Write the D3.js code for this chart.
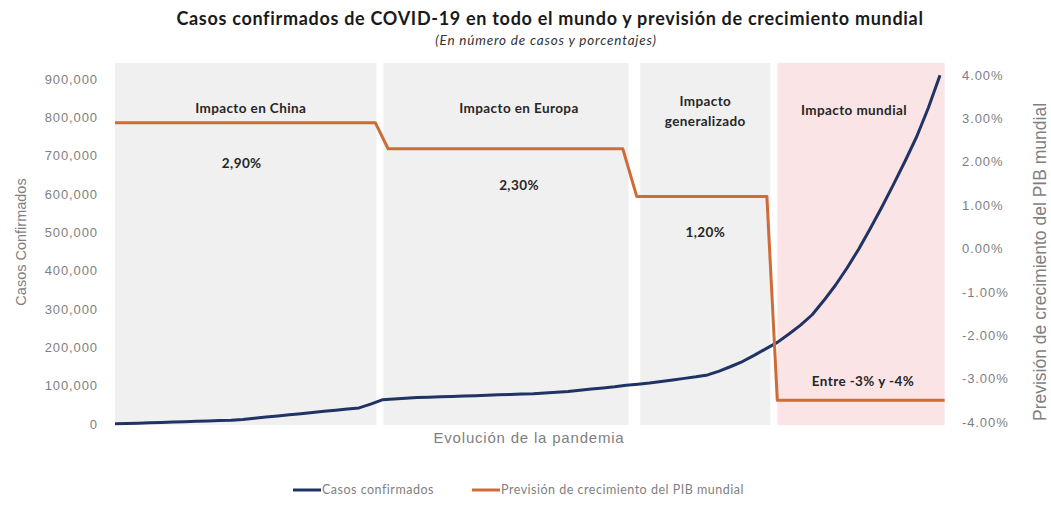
<!DOCTYPE html>
<html><head><meta charset="utf-8">
<script src="https://cdn.jsdelivr.net/npm/d3@7"></script>
<style>
body{margin:0;background:#fff;}
svg{display:block;}
</style></head>
<body>
<svg id="chart" width="1051" height="508"></svg>
<script>
// ---- data ----
const days = d3.range(0, 72); // day index of the pandemic evolution
const casos = [0.5,1,2,3,4,5,6,7,8,9,10,
  12,15,18,21,24,27,30,33,36,39,42,
  52,63,65,67,69,70,71,72,73,74,75,76,77,78,79,81,83,
  85,88,91,94,97,101,104,107,111,115,119,123,128,
  138,150,163,179,196,213,235,258,285,322,362,407,456,510,566,625,686,750,825,910
].map(v => v * 1000);
const pibDays = [0, 22.4, 23.5, 43.7, 44.9, 56.1, 57, 71.4];
const pibVals = [2.9, 2.9, 2.3, 2.3, 1.2, 1.2, -3.5, -3.5];
const bandNames = ["China", "Europa", "Generalizado", "Mundial"];
const bandStart = [0, 23.1, 45.2, 57];
const bandEnd = [22.5, 44.2, 56.4, 71.4];
const bandTitles = [["Impacto en China"], ["Impacto en Europa"], ["Impacto", "generalizado"], ["Impacto mundial"]];
const bandValueLabels = ["2,90%", "2,30%", "1,20%", "Entre -3% y -4%"];
const bandValuePct = [2.9, 2.3, 1.2, -3.5];
const leftTicks = [0,100000,200000,300000,400000,500000,600000,700000,800000,900000];
const rightTicks = [-4,-3,-2,-1,0,1,2,3,4];
const seriesNames = ["Casos confirmados", "Previsión de crecimiento del PIB mundial"];

// ---- layout ----
const svg = d3.select("#chart");
const plotLeft = 115, plotRight = 940, plotTop = 63, plotBottom = 424;
const x = d3.scaleLinear().domain([0, 71]).range([plotLeft, plotRight]);
const yL = d3.scaleLinear().domain([0, 900000]).range([plotBottom, 79]);
const yR = d3.scaleLinear().domain([-4, 4]).range([422, 75]);
const blue = "#1f3364", orange = "#cf6b37";
const fontB = "Lato, 'Open Sans', sans-serif";
const fontA = "'Liberation Sans', Arial, sans-serif";

// bands
const bandFill = ["#f0f0f0", "#f0f0f0", "#f0f0f0", "#fbe4e5"];
svg.append("g").selectAll("rect").data(bandNames).join("rect")
  .attr("x", (d,i) => x(bandStart[i]))
  .attr("width", (d,i) => x(bandEnd[i]) - x(bandStart[i]))
  .attr("y", plotTop).attr("height", plotBottom + 1 - plotTop)
  .attr("fill", (d,i) => bandFill[i]);

// left axis
const axL = svg.append("g").attr("transform", `translate(${plotLeft - 17},0)`)
  .call(d3.axisLeft(yL).tickValues(leftTicks).tickFormat(d3.format(",")).tickSize(0).tickPadding(0));
axL.select(".domain").remove();
axL.selectAll("text").attr("fill", "#7f7f7f").style("font-family", fontA).style("font-size", "13px").style("letter-spacing", "0.9px");

// right axis
const pct = d => (d < 0 ? "-" : "") + Math.abs(d).toFixed(2) + "%";
const axR = svg.append("g").attr("transform", `translate(962,0)`)
  .call(d3.axisRight(yR).tickValues(rightTicks).tickFormat(pct).tickSize(0).tickPadding(0));
axR.select(".domain").remove();
axR.selectAll("text").attr("fill", "#7f7f7f").style("font-family", fontA).style("font-size", "13px").style("letter-spacing", "0.9px");

// axis titles
svg.append("text").attr("transform", "translate(26,242) rotate(-90)")
  .attr("text-anchor", "middle").attr("fill", "#7f7f7f")
  .style("font-family", fontA).style("font-size", "14.5px")
  .text("Casos Confirmados");
svg.append("text").attr("transform", "translate(1046,262) rotate(-90)")
  .attr("text-anchor", "middle").attr("fill", "#7f7f7f")
  .style("font-family", fontA).style("font-size", "17.5px")
  .text("Previsión de crecimiento del PIB mundial");
svg.append("text").attr("x", 529).attr("y", 443)
  .attr("text-anchor", "middle").attr("fill", "#7f7f7f")
  .style("font-family", fontA).style("font-size", "15px").style("letter-spacing", "0.8px")
  .text("Evolución de la pandemia");

// lines
const lineCasos = d3.line().x((d,i) => x(days[i])).y(d => yL(d));
svg.append("path").datum(casos).attr("d", lineCasos)
  .attr("fill", "none").attr("stroke", blue).attr("stroke-width", 3).attr("stroke-linejoin", "round");
const linePib = d3.line().x((d,i) => x(pibDays[i])).y(d => yR(d));
svg.append("path").datum(pibVals).attr("d", linePib)
  .attr("fill", "none").attr("stroke", orange).attr("stroke-width", 3).attr("stroke-linejoin", "round");

// band labels
const bandTitleY = [108, 108, 101, 110];
const titleOffset = [5, 13, 0, -7];
const valueOffset = [-4, 13, 0, 2];
const valueLabelOffset = [41, 37, 36, -19];
const gl = svg.append("g").style("font-family", fontB).style("font-weight", "bold").attr("fill", "#262626")
  .style("letter-spacing", "0.4px");
bandNames.forEach((n, i) => {
  const cx = (x(bandStart[i]) + x(bandEnd[i])) / 2;
  const t = gl.append("text").attr("text-anchor", "middle").attr("y", bandTitleY[i]).style("font-size", "13.5px");
  bandTitles[i].forEach((line, j) => {
    t.append("tspan").attr("x", cx + titleOffset[i]).attr("dy", j === 0 ? "0.35em" : "1.5em").text(line);
  });
  gl.append("text").attr("text-anchor", "middle")
    .attr("x", cx + valueOffset[i])
    .attr("y", yR(bandValuePct[i]) + valueLabelOffset[i]).attr("dy", "0.35em")
    .style("font-size", "13.5px").text(bandValueLabels[i]);
});

// title
svg.append("text").attr("x", 550).attr("y", 19).attr("dy", "0.35em").attr("text-anchor", "middle")
  .style("font-family", fontB).style("font-weight", "bold").style("font-size", "18px").style("letter-spacing", "0.7px")
  .attr("fill", "#1a1a1a")
  .text("Casos confirmados de COVID-19 en todo el mundo y previsión de crecimiento mundial");
svg.append("text").attr("x", 546).attr("y", 40).attr("dy", "0.35em").attr("text-anchor", "middle")
  .style("font-family", fontB).style("font-style", "italic").style("font-size", "13.5px").style("letter-spacing", "0.8px")
  .attr("fill", "#333")
  .text("(En número de casos y porcentajes)");

// legend
const legX = [293, 472];
const legColors = [blue, orange];
const lg = svg.append("g");
seriesNames.forEach((n, i) => {
  lg.append("line").attr("x1", legX[i]).attr("x2", legX[i] + 28).attr("y1", 490).attr("y2", 490)
    .attr("stroke", legColors[i]).attr("stroke-width", 3);
  lg.append("text").attr("x", legX[i] + 29).attr("y", 490).attr("dy", "0.35em")
    .style("font-family", fontB).style("font-size", "12.5px").style("letter-spacing", "0.5px")
    .attr("fill", "#7f7f7f").text(n);
});
</script>
</body></html>
